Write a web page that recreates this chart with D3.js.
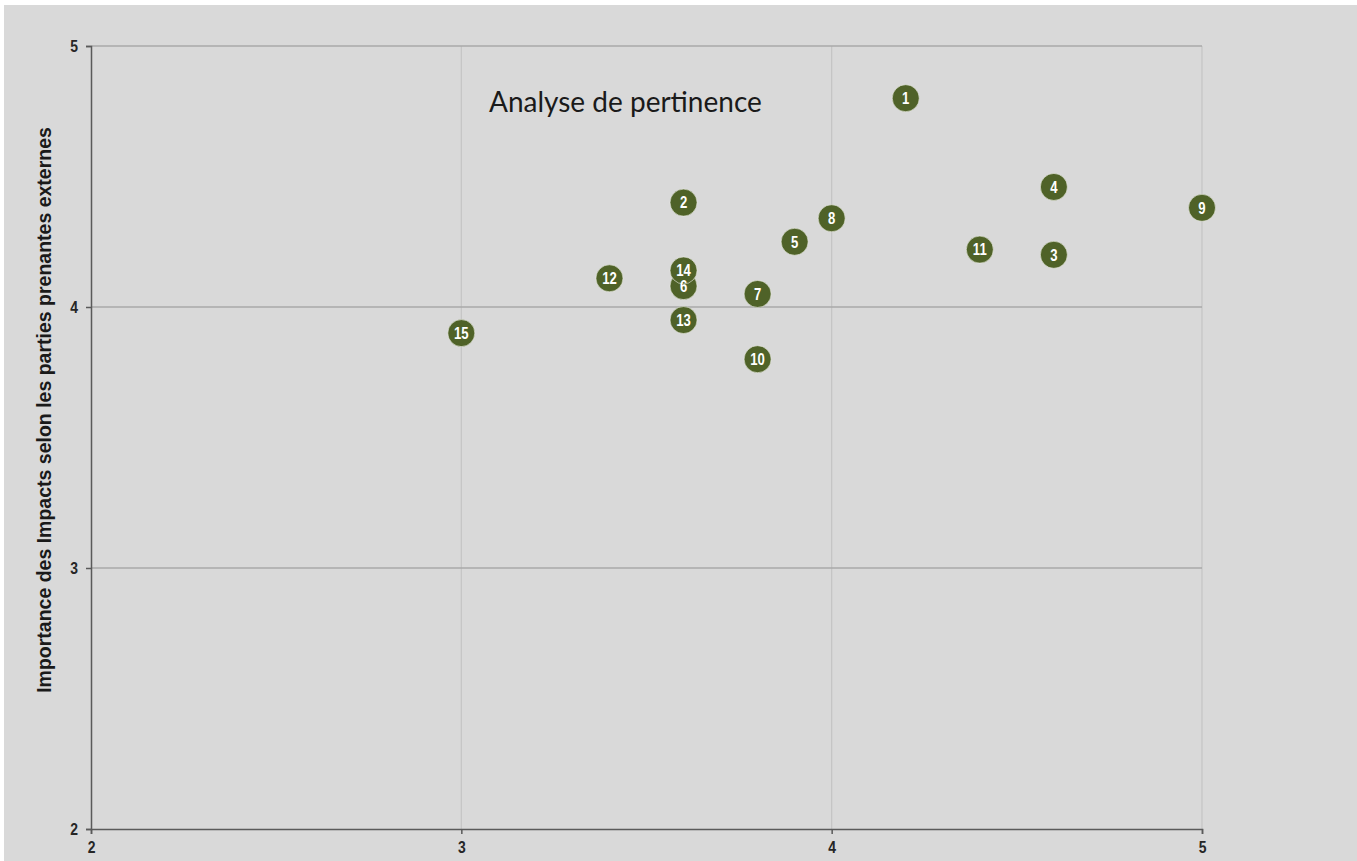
<!DOCTYPE html>
<html>
<head>
<meta charset="utf-8">
<script src="https://cdn.jsdelivr.net/npm/d3@7"></script>
<style>
  html, body { margin: 0; padding: 0; background: #ffffff; }
  svg { display: block; }
</style>
</head>
<body>
<svg id="chart" width="1357" height="861"></svg>
<script>
// Issue numbers and their scores
const ids = [1, 2, 3, 4, 5, 6, 7, 8, 9, 10, 11, 12, 13, 14, 15];
const xValues = [4.2, 3.6, 4.6, 4.6, 3.9, 3.6, 3.8, 4.0, 5.0, 3.8, 4.4, 3.4, 3.6, 3.6, 3.0];
const yValues = [4.8, 4.4, 4.2, 4.46, 4.25, 4.08, 4.05, 4.34, 4.38, 3.8, 4.22, 4.11, 3.95, 4.14, 3.9];
const xTicks = [2, 3, 4, 5];
const yTicks = [2, 3, 4, 5];

const chartTitle = "Analyse de pertinence";
const yTitle = "Importance des Impacts selon les parties prenantes externes";

const W = 1357, H = 861;
const plot = { left: 91, right: 1202, top: 46, bottom: 829 };

const svg = d3.select("#chart");

// Grey canvas
svg.append("rect")
  .attr("x", 4).attr("y", 5)
  .attr("width", W - 4).attr("height", H - 5)
  .attr("fill", "#d9d9d9");

const x = d3.scaleLinear().domain([2, 5]).range([plot.left, plot.right]);
const y = d3.scaleLinear().domain([2, 5]).range([plot.bottom, plot.top]);

const sans = "'Liberation Sans', Arial, sans-serif";
const squeeze = 0.82; // condensed look for the numeric labels

// Vertical gridlines
svg.append("g")
  .selectAll("line")
  .data(xTicks.filter(t => t > 2))
  .join("line")
  .attr("x1", d => x(d)).attr("x2", d => x(d))
  .attr("y1", plot.top).attr("y2", plot.bottom)
  .attr("stroke", "#c4c4c4").attr("stroke-width", 1.2);

// Horizontal gridlines
svg.append("g")
  .selectAll("line")
  .data(yTicks.filter(t => t > 2))
  .join("line")
  .attr("x1", plot.left).attr("x2", plot.right)
  .attr("y1", d => y(d)).attr("y2", d => y(d))
  .attr("stroke", "#a9a9a9").attr("stroke-width", 1.5);

// Axes
const xAxis = svg.append("g")
  .attr("transform", `translate(0,${plot.bottom})`)
  .call(d3.axisBottom(x).tickValues(xTicks).tickSize(5).tickPadding(7).tickFormat(d3.format("d")));
const yAxis = svg.append("g")
  .attr("transform", `translate(${plot.left},0)`)
  .call(d3.axisLeft(y).tickValues(yTicks).tickSize(5).tickPadding(0).tickFormat(d3.format("d")));

[xAxis, yAxis].forEach(g => {
  g.select(".domain").attr("stroke", "#5a5a5a").attr("stroke-width", 1.5);
  g.selectAll(".tick line").attr("stroke", "#5a5a5a").attr("stroke-width", 1.5);
  g.selectAll(".tick text")
    .attr("fill", "#262626")
    .style("font-family", sans)
    .style("font-weight", "bold")
    .style("font-size", "17px");
});
xAxis.selectAll(".tick text").attr("transform", `scale(${squeeze},1)`);
yAxis.selectAll(".tick text").attr("x", -13 / squeeze).attr("transform", `scale(${squeeze},1)`);

// Axis title
svg.append("text")
  .attr("transform", `translate(51,410) rotate(-90)`)
  .attr("text-anchor", "middle")
  .style("font-family", sans)
  .style("font-weight", "bold")
  .style("font-size", "19.5px")
  .attr("fill", "#1a1a1a")
  .text(yTitle);

// Chart title
svg.append("text")
  .attr("x", 489).attr("y", 112)
  .style("font-family", "Lato, 'Open Sans', sans-serif")
  .style("font-size", "28px")
  .attr("fill", "#1a1a1a")
  .text(chartTitle);

// Bubbles: all circles first, then all labels so overlapping labels stay readable
const points = ids.map((id, i) => ({ id, xv: xValues[i], yv: yValues[i] }));

svg.append("g")
  .selectAll("circle")
  .data(points)
  .join("circle")
  .attr("cx", d => x(d.xv))
  .attr("cy", d => y(d.yv))
  .attr("r", 13.5)
  .attr("fill", "#4f6228")
  .attr("stroke", "#eef0e6")
  .attr("stroke-opacity", 0.6)
  .attr("stroke-width", 1);

svg.append("g")
  .selectAll("text")
  .data(points)
  .join("text")
  .attr("transform", d => `translate(${x(d.xv)},${y(d.yv)}) scale(${squeeze},1)`)
  .attr("text-anchor", "middle")
  .attr("dy", "0.36em")
  .style("font-family", sans)
  .style("font-weight", "bold")
  .style("font-size", "16px")
  .attr("fill", "#ffffff")
  .text(d => d.id);
</script>
</body>
</html>
